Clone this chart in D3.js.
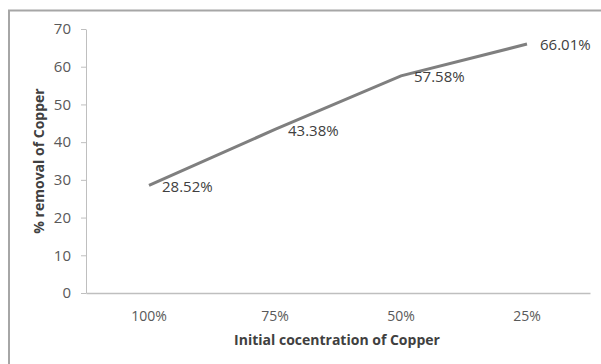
<!DOCTYPE html>
<html>
<head>
<meta charset="utf-8">
<script src="https://cdn.jsdelivr.net/npm/d3@7"></script>
<style>
  html, body { margin: 0; padding: 0; background: #fff; }
  svg { display: block; font-family: "Open Sans", sans-serif; }
</style>
</head>
<body>
<svg id="chart" width="601" height="364"></svg>
<script>
// Copper removal at each initial concentration
const categories = ["100%", "75%", "50%", "25%"];
const removal = [28.52, 43.38, 57.58, 66.01];
const yTicks = [0, 10, 20, 30, 40, 50, 60, 70];

const svg = d3.select("#chart");
const margin = { left: 86, right: 11, top: 29, bottom: 71 };
const W = 601, H = 364;

// outer chart frame
svg.append("path")
  .attr("d", `M9,${H + 2} V10.5 H${W + 2}`)
  .attr("fill", "none")
  .attr("stroke", "#a6a6a6")
  .attr("stroke-width", 2);

const x = d3.scaleBand()
  .domain(categories)
  .range([margin.left, W - margin.right]);

const y = d3.scaleLinear()
  .domain([0, 70])
  .range([H - margin.bottom, margin.top]);

// y axis
const yAxis = svg.append("g")
  .attr("transform", `translate(${margin.left},0)`)
  .call(d3.axisLeft(y).tickValues(yTicks).tickSize(5).tickPadding(10).tickSizeOuter(0));
yAxis.select(".domain").attr("stroke", "#bfbfbf");
yAxis.selectAll(".tick line").attr("stroke", "#bfbfbf");
yAxis.selectAll(".tick text")
  .attr("fill", "#595959")
  .style("font-size", "15px")
  .style("font-family", "'Open Sans', sans-serif");

// x axis
const xAxis = svg.append("g")
  .attr("transform", `translate(0,${y(0)})`)
  .call(d3.axisBottom(x).tickSize(0).tickPadding(18).tickSizeOuter(0));
xAxis.select(".domain").attr("stroke", "#bfbfbf").attr("stroke-width", 1.5);
xAxis.selectAll(".tick text")
  .attr("fill", "#595959")
  .style("font-size", "14px")
  .style("font-family", "'Open Sans', sans-serif");

// series line
const line = d3.line()
  .x((d, i) => x(categories[i]) + x.bandwidth() / 2)
  .y(d => y(d));

svg.append("path")
  .datum(removal)
  .attr("d", line)
  .attr("fill", "none")
  .attr("stroke", "#7f7f7f")
  .attr("stroke-width", 3);

// value labels
svg.append("g")
  .selectAll("text")
  .data(removal)
  .join("text")
  .attr("x", (d, i) => x(categories[i]) + x.bandwidth() / 2 + 13)
  .attr("y", d => y(d) + 1)
  .attr("dy", "0.35em")
  .attr("fill", "#404040")
  .style("font-size", "15px")
  .text(d => d.toFixed(2) + "%");

// axis titles
svg.append("text")
  .attr("x", (margin.left + W - margin.right) / 2 - 1)
  .attr("y", 345)
  .attr("text-anchor", "middle")
  .attr("fill", "#404040")
  .style("font-size", "14px")
  .style("font-weight", "bold")
  .text("Initial cocentration of Copper");

svg.append("text")
  .attr("transform", `translate(44,${(y(0) + y(70)) / 2}) rotate(-90)`)
  .attr("text-anchor", "middle")
  .attr("fill", "#404040")
  .style("font-size", "14px")
  .style("font-weight", "bold")
  .text("% removal of Copper");
</script>
</body>
</html>
